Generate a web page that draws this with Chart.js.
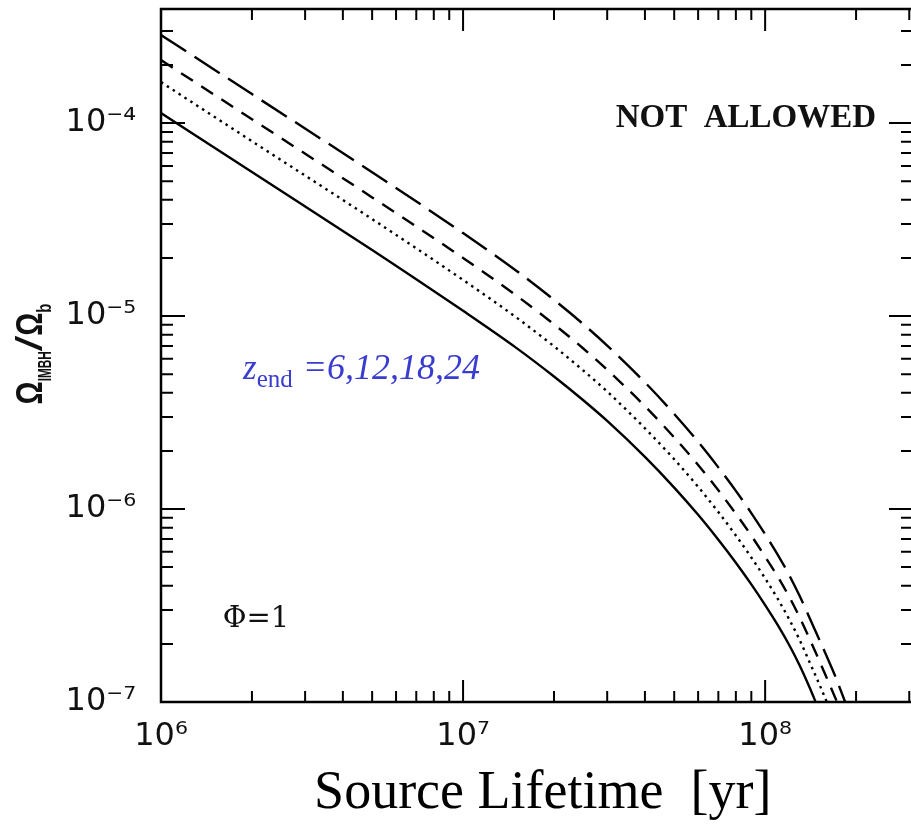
<!DOCTYPE html>
<html>
<head>
<meta charset="utf-8">
<script src="https://cdn.jsdelivr.net/npm/chart.js@4/dist/chart.umd.min.js"></script>
<style>
  html, body { margin: 0; padding: 0; background: #fff; overflow: hidden; }
  #wrap { width: 911px; height: 826px; }
</style>
</head>
<body>
<div id="wrap"><canvas id="imbhChart" width="911" height="826"></canvas></div>
<script>
// source lifetime [yr], shared by all curves, plus the tail where each curve drops out
const lifetime = [1e6, 2e6, 5e6, 1e7, 1.5e7, 2e7, 2.5e7, 3e7, 4e7, 5e7, 6e7, 7e7, 8e7, 9e7, 1e8, 1.1e8, 1.2e8, 1.3e8, 1.4e8];
const tailZ6  = [1.47e8];
const tailZ12 = [1.5e8, 1.6e8];
const tailZ18 = [1.5e8, 1.6e8, 1.73e8];
const tailZ24 = [1.5e8, 1.6e8, 1.7e8, 1.84e8];

// Omega_IMBH / Omega_b
const omegaZ6  = [1.127e-4, 5.57e-5, 2.20e-5, 1.064e-5, 6.84e-6, 4.86e-6, 3.66e-6, 2.86e-6, 1.862e-6, 1.291e-6,
                  9.33e-7, 6.93e-7, 5.27e-7, 4.07e-7, 3.18e-7, 2.51e-7, 1.98e-7, 1.55e-7, 1.20e-7, 1.0e-7];
const omegaZ12 = [1.63e-4, 8.05e-5, 3.18e-5, 1.538e-5, 9.84e-6, 6.97e-6, 5.22e-6, 4.06e-6, 2.62e-6, 1.81e-6,
                  1.303e-6, 9.64e-7, 7.29e-7, 5.61e-7, 4.37e-7, 3.43e-7, 2.69e-7, 2.10e-7, 1.62e-7, 1.27e-7, 1.0e-7];
const omegaZ18 = [2.12e-4, 1.047e-4, 4.12e-5, 2.0e-5, 1.279e-5, 9.06e-6, 6.79e-6, 5.27e-6, 3.41e-6, 2.35e-6,
                  1.69e-6, 1.25e-6, 9.46e-7, 7.28e-7, 5.66e-7, 4.47e-7, 3.52e-7, 2.75e-7, 2.14e-7, 1.68e-7, 1.33e-7, 1.0e-7];
const omegaZ24 = [2.86e-4, 1.413e-4, 5.56e-5, 2.69e-5, 1.718e-5, 1.213e-5, 9.08e-6, 7.03e-6, 4.53e-6, 3.11e-6,
                  2.23e-6, 1.644e-6, 1.242e-6, 9.53e-7, 7.40e-7, 5.81e-7, 4.56e-7, 3.55e-7, 2.75e-7, 2.16e-7, 1.72e-7, 1.38e-7, 1.0e-7];

// axis ranges
const xMin = 1e6, xMax = 3.04e8;
const yMin = 1e-7, yMax = 3.9e-4;

const pts = (xs, ys) => xs.map((x, i) => ({ x: x, y: ys[i] }));

const SUP = { '-': '\u207B', '0': '\u2070', '1': '\u00B9', '2': '\u00B2', '3': '\u00B3',
  '4': '\u2074', '5': '\u2075', '6': '\u2076', '7': '\u2077', '8': '\u2078', '9': '\u2079' };

function isDecade(v) {
  const l = Math.log10(v);
  return Math.abs(l - Math.round(l)) < 1e-9;
}
function powLabel(v) {
  if (!isDecade(v)) return '';
  const e = String(Math.round(Math.log10(v)));
  return '10' + e.split('').map(c => SUP[c]).join('');
}

// fixed axis box, no extra padding for overhanging labels
function fixBox(size, horizontal) {
  return s => {
    if (horizontal) s.height = size; else s.width = size;
    s.paddingTop = 0; s.paddingBottom = 0; s.paddingLeft = 0; s.paddingRight = 0;
  };
}

// inward ticks on all four sides + frame
const frameTicks = {
  id: 'frameTicks',
  afterDatasetsDraw(chart) {
    const { ctx, chartArea: a, scales } = chart;
    const xs = scales.x, ys = scales.y;
    ctx.save();
    ctx.strokeStyle = '#000';
    ctx.lineWidth = 2;
    ctx.lineCap = 'butt';
    for (let d = 5; d <= 9; d++) {
      for (let m = 1; m <= 9; m++) {
        const v = m * Math.pow(10, d);
        if (v < xMin * 0.999 || v > xMax) continue;
        const px = xs.getPixelForValue(v);
        const len = m === 1 ? 22 : 11;
        ctx.beginPath();
        ctx.moveTo(px, a.bottom); ctx.lineTo(px, a.bottom - len);
        ctx.moveTo(px, a.top); ctx.lineTo(px, a.top + len);
        ctx.stroke();
      }
    }
    for (let d = -8; d <= -3; d++) {
      for (let m = 1; m <= 9; m++) {
        const v = m * Math.pow(10, d);
        if (v < yMin * 0.999 || v > yMax) continue;
        const py = ys.getPixelForValue(v);
        const len = m === 1 ? 24 : 12;
        ctx.beginPath();
        ctx.moveTo(a.left, py); ctx.lineTo(a.left + len, py);
        ctx.moveTo(a.right + 2, py); ctx.lineTo(a.right + 2 - len, py);
        ctx.stroke();
      }
    }
    ctx.lineWidth = 2.5;
    ctx.beginPath();
    ctx.moveTo(a.right + 3, a.top);
    ctx.lineTo(a.left, a.top);
    ctx.lineTo(a.left, a.bottom);
    ctx.lineTo(a.right + 3, a.bottom);
    ctx.stroke();
    ctx.restore();
  }
};

// labels inside the plot and the rotated y title
const notes = {
  id: 'notes',
  afterDraw(chart) {
    const { ctx, scales } = chart;
    const xs = scales.x, ys = scales.y;
    ctx.save();
    ctx.fillStyle = '#111';
    ctx.textBaseline = 'alphabetic';

    ctx.font = 'bold 33px "Liberation Serif"';
    ctx.fillText('NOT  ALLOWED', xs.getPixelForValue(3.2e7), ys.getPixelForValue(9.5e-5));

    ctx.font = '29px "DejaVu Serif"';
    ctx.fillText('\u03A6=1', xs.getPixelForValue(1.6e6), ys.getPixelForValue(2.45e-7));

    // z_end = 6,12,18,24
    const zx = xs.getPixelForValue(1.87e6), zy = ys.getPixelForValue(4.7e-6);
    ctx.fillStyle = '#3a3ccf';
    ctx.font = 'italic 35px "Liberation Serif"';
    ctx.fillText('z', zx, zy);
    let w = ctx.measureText('z').width;
    ctx.font = '25px "Liberation Serif"';
    ctx.fillText('end', zx + w, zy + 8);
    w += ctx.measureText('end').width + 10;
    ctx.font = 'italic 36px "Liberation Serif"';
    ctx.fillText('=6,12,18,24', zx + w, zy);

    // Omega_IMBH / Omega_b
    ctx.fillStyle = '#111';
    ctx.translate(42, 354);
    ctx.rotate(-Math.PI / 2);
    const parts = [
      { t: '\u03A9', f: 'bold 37px "Liberation Sans"', sx: 0.78, dy: 0 },
      { t: 'IMBH', f: 'bold 19px "Liberation Sans"', sx: 0.62, dy: 9 },
      { t: '/', f: '37px "Liberation Sans"', sx: 1.5, dy: 0 },
      { t: '\u03A9', f: 'bold 37px "Liberation Sans"', sx: 0.78, dy: 0 },
      { t: 'b', f: 'bold 20px "Liberation Sans"', sx: 0.75, dy: 9 }
    ];
    let total = 0;
    parts.forEach(p => { ctx.font = p.f; p.w = ctx.measureText(p.t).width * p.sx; total += p.w; });
    let pos = -total / 2;
    parts.forEach(p => {
      ctx.save();
      ctx.font = p.f;
      ctx.translate(pos, p.dy);
      ctx.scale(p.sx, 1);
      ctx.fillText(p.t, 0, 0);
      ctx.restore();
      pos += p.w;
    });
    ctx.restore();
  }
};

const lineStyle = { borderColor: '#000', borderWidth: 2.4, pointRadius: 0, cubicInterpolationMode: 'monotone', fill: false };

new Chart(document.getElementById('imbhChart').getContext('2d'), {
  type: 'line',
  data: {
    datasets: [
      { label: 'z_end=6', data: pts(lifetime.concat(tailZ6), omegaZ6), ...lineStyle },
      { label: 'z_end=12', data: pts(lifetime.concat(tailZ12), omegaZ12), ...lineStyle, borderDash: [2.5, 4.5] },
      { label: 'z_end=18', data: pts(lifetime.concat(tailZ18), omegaZ18), ...lineStyle, borderDash: [14, 10] },
      { label: 'z_end=24', data: pts(lifetime.concat(tailZ24), omegaZ24), ...lineStyle, borderDash: [30, 10] }
    ]
  },
  options: {
    responsive: false,
    animation: false,
    layout: { padding: { top: 9, right: 0, left: 0, bottom: 0 } },
    plugins: { legend: { display: false }, tooltip: { enabled: false } },
    scales: {
      x: {
        type: 'logarithmic',
        min: xMin,
        max: xMax,
        grid: { display: false },
        border: { display: false },
        ticks: {
          autoSkip: false,
          maxRotation: 0,
          padding: 7,
          color: '#111',
          font: { family: 'DejaVu Sans', size: 32 },
          callback: v => powLabel(v)
        },
        title: {
          display: true,
          text: ' Source Lifetime  [yr]',
          color: '#000',
          font: { family: 'Liberation Serif', size: 54 },
          padding: { top: 0, bottom: 0 }
        },
        afterFit: fixBox(124, true)
      },
      y: {
        type: 'logarithmic',
        min: yMin,
        max: yMax,
        grid: { display: false },
        border: { display: false },
        ticks: {
          autoSkip: false,
          padding: 17,
          color: '#111',
          font: { family: 'DejaVu Sans', size: 32 },
          callback: v => powLabel(v)
        },
        afterFit: fixBox(161, false)
      }
    }
  },
  plugins: [frameTicks, notes]
});
</script>
</body>
</html>
